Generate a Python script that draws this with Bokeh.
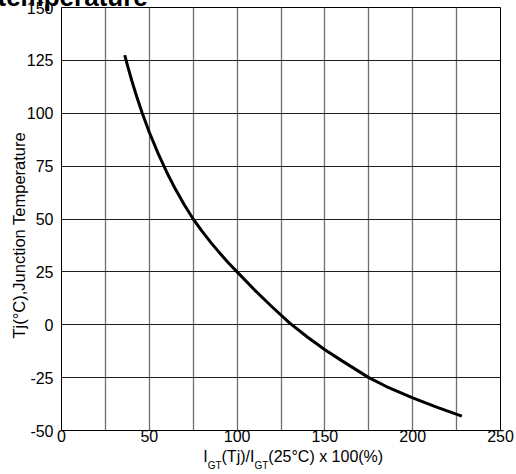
from bokeh.plotting import figure
from bokeh.models import Range1d, FixedTicker, LinearAxis, Title
from bokeh.embed import file_html
from bokeh.resources import INLINE

# ---- data ----
igt_pct = [36, 38, 40, 43, 46, 50, 55, 60, 65, 70, 75, 80, 85, 90, 95, 100,
           110, 120, 130, 140, 150, 160, 175, 185, 200, 214, 228]
tj_c = [127.5, 121.3, 115.5, 107.4, 100, 91, 81, 72, 63.9, 56.6, 50, 44.25, 38.95, 34, 29.35, 25,
        16.4, 8.4, 0.8, -5.8, -11.8, -17.2, -25, -29.2, -34.6, -39.1, -43.2]
x_ticks = [0, 25, 50, 75, 100, 125, 150, 175, 200, 225, 250]
x_tick_labels = {0: "0", 50: "50", 100: "100", 150: "150", 200: "200", 250: "250"}
y_ticks = [-50, -25, 0, 25, 50, 75, 100, 125, 150]
y_tick_labels = {-50: "-50", -25: "-25", 0: "0", 25: "25", 50: "50", 75: "75", 100: "100", 125: "125", 150: "150"}
title_text = "temperature"
y_label_text = "Tj(°C),Junction Temperature"
x_label_parts = [("I", False), ("GT", True), ("(Tj)/I", False), ("GT", True), ("(25°C) x 100(%)", False)]

FONT = "Liberation Sans"

# layout (pixels)
W_PX, H_PX = 516, 506
B_LEFT, B_RIGHT, B_TOP, B_BOTTOM = 61, 16, 40, 43
FRAME_W = W_PX - B_LEFT - B_RIGHT
X0, X1, Y0, Y1 = 0, 250, -50, 150
SHIFT_UP = 33  # canvas top sits above the window, like the cropped reference

p = figure(width=W_PX, height=H_PX, x_range=Range1d(X0, X1), y_range=Range1d(Y0, Y1),
           output_backend="svg", toolbar_location=None,
           min_border_left=B_LEFT, min_border_right=B_RIGHT,
           min_border_top=B_TOP, min_border_bottom=B_BOTTOM)
p.styles = {"margin-top": f"-{SHIFT_UP}px"}
p.background_fill_color = "white"
p.border_fill_color = "white"
p.outline_line_color = "black"
p.outline_line_width = 1

# title (cut off at the top / left like the reference)
p.title.text = title_text
p.title.text_font = FONT
p.title.text_font_style = "bold"
p.title.text_font_size = "26px"
p.title.text_color = "black"
p.title.align = "left"
p.title.offset = -64
p.title.standoff = -9


def style_axis(ax, size, standoff):
    ax.axis_line_color = None
    ax.major_tick_line_color = None
    ax.minor_tick_line_color = None
    ax.major_tick_out = 0
    ax.major_tick_in = 0
    ax.major_label_text_font = FONT
    ax.major_label_text_font_size = f"{size}px"
    ax.major_label_text_color = "black"
    ax.major_label_standoff = standoff


p.xaxis.ticker = FixedTicker(ticks=x_ticks)
p.xaxis.major_label_overrides = {t: x_tick_labels.get(t, "") for t in x_ticks}
p.yaxis.ticker = FixedTicker(ticks=y_ticks)
p.yaxis.major_label_overrides = dict(y_tick_labels)
style_axis(p.xaxis[0], 16, -1)
style_axis(p.yaxis[0], 16, 8)

p.xgrid.ticker = FixedTicker(ticks=x_ticks)
p.ygrid.ticker = FixedTicker(ticks=y_ticks)
p.xgrid.grid_line_color = "#6e6e6e"
p.xgrid.grid_line_width = 1.3
p.ygrid.grid_line_color = "#1e1e1e"
p.ygrid.grid_line_width = 1.2

p.line(igt_pct, tj_c, line_color="black", line_width=3)

# y axis title on the left, starting 92px above the frame bottom like the reference
ytitle = Title(text=y_label_text, align="left", offset=92, standoff=-9,
               text_font=FONT, text_font_size="16.5px", text_font_style="normal", text_color="black")
p.add_layout(ytitle, "left")

# x axis title with subscripts: two extra label rows (main text and subscripts)
WID = {"I": 278, "G": 778, "T": 611, "(": 333, "j": 222, ")": 333, "/": 278, "2": 556,
       "5": 556, "°": 400, "C": 722, " ": 278, "x": 500, "1": 556, "0": 556, "%": 889}
MAIN, SUB = 16, 10
sx = 202.7 - B_LEFT  # left edge of the label, px from frame left
main_ticks, main_txt, sub_ticks, sub_txt = [], [], [], []
for txt, sub in x_label_parts:
    size = SUB if sub else MAIN
    w = sum(WID.get(c, 556) for c in txt) * size / 1000
    centre = round(X0 + (sx + w / 2) * (X1 - X0) / FRAME_W, 3)
    (sub_ticks if sub else main_ticks).append(centre)
    (sub_txt if sub else main_txt).append(txt)
    sx += w

ax_main = LinearAxis(ticker=FixedTicker(ticks=main_ticks),
                     major_label_overrides=dict(zip(main_ticks, main_txt)))
style_axis(ax_main, MAIN, 3)
p.add_layout(ax_main, "below")
ax_sub = LinearAxis(ticker=FixedTicker(ticks=sub_ticks),
                    major_label_overrides=dict(zip(sub_ticks, sub_txt)))
style_axis(ax_sub, SUB, -8)
p.add_layout(ax_sub, "below")

open("out.html", "w").write(file_html(p, INLINE))
